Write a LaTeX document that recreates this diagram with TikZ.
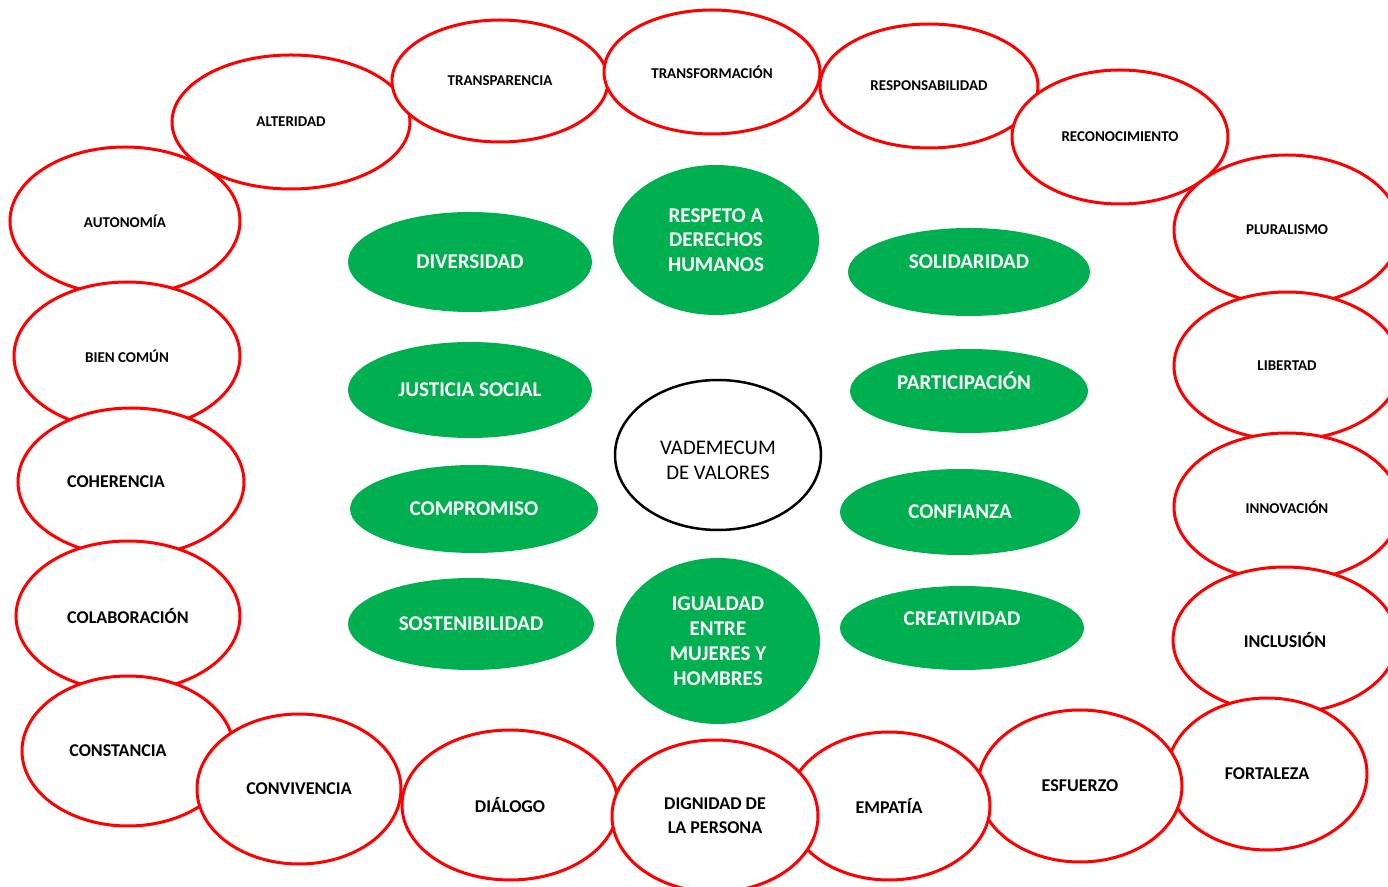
\documentclass[tikz,border=0pt]{standalone}
\usepackage{fontspec}
\setmainfont{Carlito}
\usepackage{xcolor}
\usepackage{tikz}
\usetikzlibrary{shapes.geometric}
\definecolor{rojo}{HTML}{FF0000}
\definecolor{verde}{HTML}{00B050}
\tikzset{valor/.style={ellipse, draw=rojo, line width=1.5pt, fill=white, inner sep=0pt, align=center, font=\bfseries\fontsize{9}{12}\selectfont},
	chico/.style={font=\bfseries\fontsize{7.5}{9}\selectfont},
	valortxt/.style={font=\bfseries\fontsize{9}{12}\selectfont},
	nucleo/.style={ellipse, fill=verde, text=white, inner sep=0pt, align=center, font=\bfseries\fontsize{10.5}{12.4}\selectfont},
	nucleotxt/.style={text=white, font=\bfseries\fontsize{10.5}{12.4}\selectfont},
	centro/.style={ellipse, draw=black, line width=1.25pt, fill=white, inner sep=0pt},
	centrotxt/.style={align=center, font=\fontsize{10.4}{12.5}\selectfont},
	radios/.style 2 args={minimum width=#1pt, minimum height=#2pt}}

\begin{document}
\begin{tikzpicture}[x=0.5pt, y=-0.5pt]
		\useasboundingbox (0,0) rectangle (1388,887);
		
		% arco superior
		\node[valor, chico, radios={119}{67}] (alteridad) at (291,122) {ALTERIDAD};
		\node[valor, chico, radios={108}{61}] (transparencia) at (500,81) {TRANSPARENCIA};
		\node[valor, chico, radios={108}{62}] (transformacion) at (712,72) {TRANSFORMACIÓN};
		\node[valor, chico, radios={109}{62}] (responsabilidad) at (929,86) {RESPONSABILIDAD};
		\node[valor, chico, radios={108}{67}] (reconocimiento) at (1120,137) {RECONOCIMIENTO};
		
		% columna derecha
		\node[valor, chico, radios={113}{75}] (pluralismo) at (1287,230) {PLURALISMO};
		\node[valor, chico, radios={113}{74}] (libertad) at (1287,366) {LIBERTAD};
		\node[valor, chico, radios={113}{74}] (innovacion) at (1287,507) {INNOVACIÓN};
		\node[valor, radios={112}{73}] (inclusion) at (1285,640) {INCLUSIÓN};
		
		% fila inferior
		\node[valor, radios={100}{76}] (fortaleza) at (1267,774) {FORTALEZA};
		\node[valor, radios={102}{76}] (esfuerzo) at (1080,786) {ESFUERZO};
		\node[valor, radios={101}{74}] (empatia) at (889,806) {EMPATÍA};
		
		% columna izquierda
		\node[valor, chico, radios={115}{74}] (autonomia) at (125,221) {AUTONOMÍA};
		\node[valor, chico, radios={113}{74}] (biencomun) at (127,356) {BIEN COMÚN};
		\node[valor, radios={113}{74}, label={[valortxt, xshift=-7.5pt]center:COHERENCIA}] (coherencia) at (131,482) {};
		\node[valor, radios={112}{75}] (colaboracion) at (128,616) {COLABORACIÓN};
		\node[valor, radios={106}{75}, label={[valortxt, xshift=-5pt]center:CONSTANCIA}] (constancia) at (128,751) {};
		\node[valor, radios={102}{75}] (convivencia) at (299,789) {CONVIVENCIA};
		\node[valor, radios={108}{75}] (dialogo) at (510,805) {DIÁLOGO};
		\node[valor, radios={103}{76}] (dignidad) at (715,816) {DIGNIDAD DE\\LA PERSONA};
		
		% valores centrales
		\node[nucleo, radios={103}{75}] (respeto) at (716,240) {RESPETO A\\DERECHOS\\HUMANOS};
		\node[nucleo, radios={122}{50}] (diversidad) at (470,262) {DIVERSIDAD};
		\node[nucleo, radios={121}{44}, label={[nucleotxt, yshift=5pt]center:SOLIDARIDAD}] (solidaridad) at (969,272) {};
		\node[nucleo, radios={122}{48}] (justicia) at (470,390) {JUSTICIA SOCIAL};
		\node[nucleo, radios={119}{42}, label={[nucleotxt, yshift=5pt, xshift=-2.5pt]center:PARTICIPACIÓN}] (participacion) at (969,391) {};
		\node[nucleo, radios={124}{44}] (compromiso) at (474,509) {COMPROMISO};
		\node[nucleo, radios={120}{43}] (confianza) at (960,512) {CONFIANZA};
		\node[nucleo, radios={123}{46}] (sostenibilidad) at (471,624) {SOSTENIBILIDAD};
		\node[nucleo, radios={122}{42}, label={[nucleotxt, yshift=4.5pt]center:CREATIVIDAD}] (creatividad) at (962,628) {};
		\node[nucleo, radios={102}{83}] (igualdad) at (718,641) {IGUALDAD\\ENTRE\\MUJERES Y\\HOMBRES};
		
		\node[centro, radios={103}{75}, label={[centrotxt, yshift=-2.5pt]center:VADEMECUM\\DE VALORES}] (vademecum) at (718,455) {};
	\end{tikzpicture}
\end{document}
